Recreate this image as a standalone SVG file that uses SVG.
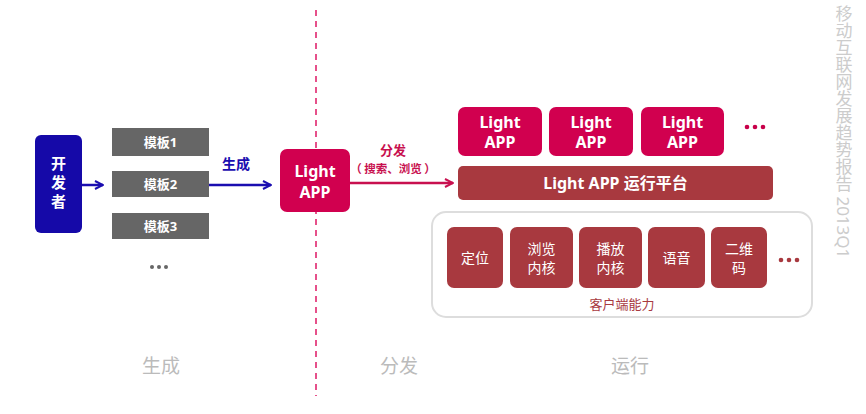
<svg xmlns="http://www.w3.org/2000/svg" width="866" height="414" viewBox="0 0 866 414">
<defs>
<style>
text{font-family:"Noto Sans","Noto Sans CJK SC",sans-serif;text-anchor:middle}
.w{fill:#fff;font-weight:bold}
.tpl{fill:#666666}
.app{fill:#d1004f}
.red{fill:#a8393f}
.lbl{fill:#bbbbbb;font-size:19px}
</style>
<marker id="ab" viewBox="0 0 10 10" refX="9" refY="5" markerWidth="10" markerHeight="10" markerUnits="userSpaceOnUse" orient="auto"><path d="M1,1 L9,5 L1,9" fill="none" stroke="#1a0db0" stroke-width="2"/></marker>
<marker id="ar" viewBox="0 0 10 10" refX="9" refY="5" markerWidth="10" markerHeight="10" markerUnits="userSpaceOnUse" orient="auto"><path d="M1,1 L9,5 L1,9" fill="none" stroke="#c8104f" stroke-width="2"/></marker>
</defs>
<rect width="866" height="414" fill="#fff"/>
<line x1="316" y1="10" x2="316" y2="396" stroke="#e6508a" stroke-width="2" stroke-dasharray="6,5"/>
<g id="dev"><rect x="35" y="135" width="47" height="98" rx="6" fill="#1509a8"/><text class="w" x="58.5" y="169" font-size="15">开</text><text class="w" x="58.5" y="188" font-size="15">发</text><text class="w" x="58.5" y="207" font-size="15">者</text></g>
<g id="tpl1"><rect class="tpl" x="112" y="128" width="97" height="28"/><text class="w" x="160.5" y="147" font-size="13">模板1</text></g>
<g id="tpl2"><rect class="tpl" x="112" y="171" width="97" height="26"/><text class="w" x="160.5" y="189" font-size="13">模板2</text></g>
<g id="tpl3"><rect class="tpl" x="112" y="213" width="97" height="26"/><text class="w" x="160.5" y="231" font-size="13">模板3</text></g>
<g id="tpldots" fill="#666"><circle cx="152" cy="267" r="2"/><circle cx="159" cy="267" r="2"/><circle cx="166" cy="267" r="2"/></g>
<g id="lightapp"><rect class="app" x="280" y="149" width="70" height="63" rx="7"/><text class="w" x="315" y="177" font-size="16">Light</text><text class="w" x="315" y="198" font-size="16">APP</text></g>
<g id="app1"><rect class="app" x="458" y="107" width="84" height="49" rx="7"/><text class="w" x="500" y="128" font-size="16">Light</text><text class="w" x="500" y="148" font-size="16">APP</text></g>
<g id="app2"><rect class="app" x="549" y="107" width="84" height="49" rx="7"/><text class="w" x="591" y="128" font-size="16">Light</text><text class="w" x="591" y="148" font-size="16">APP</text></g>
<g id="app3"><rect class="app" x="641" y="107" width="83" height="49" rx="7"/><text class="w" x="682.5" y="128" font-size="16">Light</text><text class="w" x="682.5" y="148" font-size="16">APP</text></g>
<g id="appdots" fill="#c8004a"><circle cx="747" cy="127" r="2.3"/><circle cx="755" cy="127" r="2.3"/><circle cx="763" cy="127" r="2.3"/></g>
<g id="platform"><rect class="red" x="458" y="166" width="315" height="34" rx="5"/><text class="w" x="615.5" y="189" font-size="16">Light APP 运行平台</text></g>
<g id="client"><rect x="432" y="212" width="380" height="105" rx="14" fill="#fff" stroke="#dddddd" stroke-width="2"/><text x="622" y="309" font-size="13" fill="#a8393f">客户端能力</text></g>
<g id="c1"><rect class="red" x="447" y="227" width="56" height="61" rx="7"/><text x="475" y="263" font-size="14" fill="#fff">定位</text></g>
<g id="c2"><rect class="red" x="510" y="227" width="63" height="61" rx="7"/><text x="541.5" y="254" font-size="14" fill="#fff">浏览</text><text x="541.5" y="273" font-size="14" fill="#fff">内核</text></g>
<g id="c3"><rect class="red" x="579" y="227" width="63" height="61" rx="7"/><text x="610.5" y="254" font-size="14" fill="#fff">播放</text><text x="610.5" y="273" font-size="14" fill="#fff">内核</text></g>
<g id="c4"><rect class="red" x="648" y="227" width="57" height="61" rx="7"/><text x="676.5" y="263" font-size="14" fill="#fff">语音</text></g>
<g id="c5"><rect class="red" x="711" y="227" width="56" height="61" rx="7"/><text x="739" y="254" font-size="14" fill="#fff">二维</text><text x="739" y="273" font-size="14" fill="#fff">码</text></g>
<g id="cdots" fill="#a8393f"><circle cx="781" cy="260" r="2.3"/><circle cx="789" cy="260" r="2.3"/><circle cx="797" cy="260" r="2.3"/></g>
<g id="connectors">
<line x1="82" y1="185" x2="103" y2="185" stroke="#1a0db0" stroke-width="2.5" marker-end="url(#ab)"/>
<line x1="209" y1="185" x2="271" y2="185" stroke="#1a0db0" stroke-width="2.5" marker-end="url(#ab)"/>
<text x="236" y="169" font-size="14" font-weight="bold" fill="#1a0db0">生成</text>
<line x1="350" y1="183" x2="453" y2="183" stroke="#c8104f" stroke-width="2.5" marker-end="url(#ar)"/>
<text x="393" y="155" font-size="13" font-weight="bold" fill="#c8104f">分发</text>
<text x="393" y="173" font-size="11.5" font-weight="bold" fill="#c8104f" style="font-family:'Noto Sans CJK SC',sans-serif">（ 搜索、浏览 ）</text>
</g>
<text class="lbl" x="161" y="373">生成</text>
<text class="lbl" x="399" y="373">分发</text>
<text class="lbl" x="630" y="373">运行</text>
<text x="843" y="5" font-size="17" fill="#cccccc" style="writing-mode:vertical-rl;text-anchor:start">移动互联网发展趋势报告 2013Q1</text>
</svg>
